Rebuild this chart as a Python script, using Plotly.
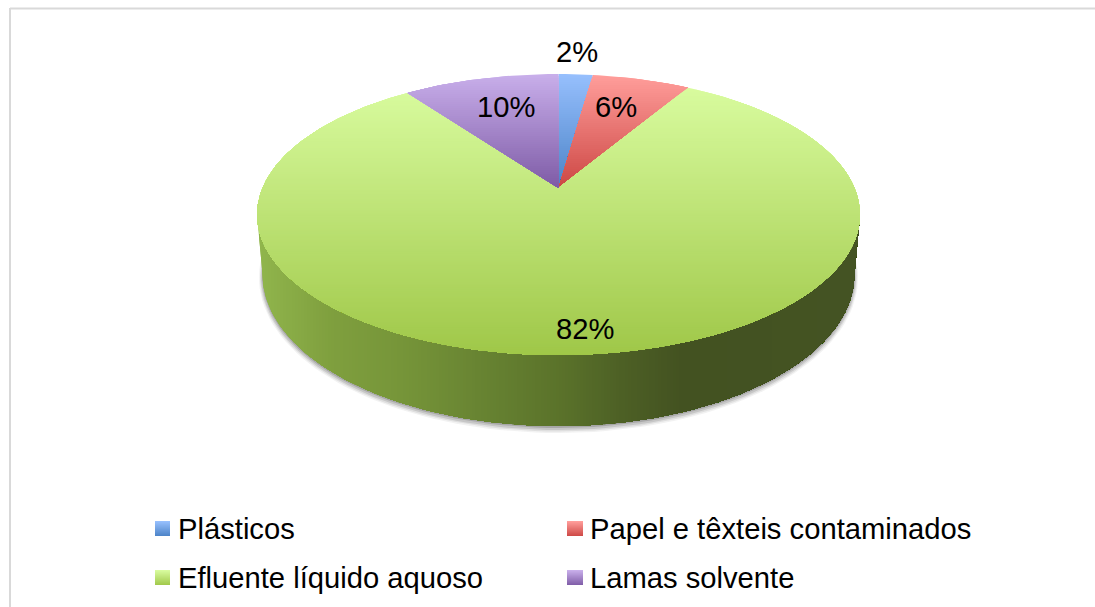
import numpy as np
import plotly.graph_objects as go

# ---- data ----
categories = ["Plásticos", "Papel e têxteis contaminados", "Efluente líquido aquoso", "Lamas solvente"]
values = [2.2, 6.3, 81.5, 10.0]
top_colors = ["#96BFFD", "#FF9D9A", "#D8FB9E", "#C8AEEA"]
bottom_colors = ["#4A82C6", "#CC4643", "#9FC748", "#7D5AA5"]

# ---- drawing geometry (page pixels) ----
W, H = 1095, 607
CX, APEX_Y = 558.5, 188.0
A, C, K = 296.0, 135.5, 0.1886     # perspective of the pie's top face
TOP = dict(cy=214.5, a=301.5, b=140.5)
BASE = dict(cy=274.0, a=296.0, b=152.0)
WALL_STOPS = [(258, "#90B54C"), (330, "#7F9F3E"), (400, "#769539"), (500, "#647F30"),
              (560, "#5A722A"), (620, "#4D6025"), (680, "#435221"), (860, "#445323")]
LABEL_POS = [(577, 52), (615.5, 107), (585, 329), (506, 107)]
LABEL_SIZE = 29.2
LEGEND_X = [(155, 170, 175.5), (567, 583, 588)]
LEGEND_Y = [(521, 536, 529), (570, 585, 578)]


def hex_rgb(h):
    return np.array([int(h[i:i + 2], 16) for i in (1, 3, 5)], float)


def mix(c0, c1, t):
    r = hex_rgb(c0) * (1 - t) + hex_rgb(c1) * t
    return "rgb(%d,%d,%d)" % tuple(np.round(r))


def project(theta):
    """Pie angle (clockwise from the back) -> page position on the top face."""
    u, v = np.sin(theta), np.cos(theta)
    w = 1 + K * v
    return CX + A * u / w, APEX_Y - C * v / w


def clip(poly, axis, limit):
    """Keep the part of a polygon with coordinate >= limit."""
    out = []
    n = len(poly)
    for i in range(n):
        p, q = poly[i], poly[(i + 1) % n]
        pin, qin = p[axis] >= limit, q[axis] >= limit
        if pin:
            out.append(p)
        if pin != qin:
            t = (limit - p[axis]) / (q[axis] - p[axis])
            out.append((p[0] + t * (q[0] - p[0]), p[1] + t * (q[1] - p[1])))
    return out


def add_poly(fig, poly, color):
    xs = [p[0] for p in poly] + [poly[0][0]]
    ys = [p[1] for p in poly] + [poly[0][1]]
    fig.add_trace(go.Scatter(x=xs, y=ys, mode="lines", fill="toself", fillcolor=color,
                             line=dict(width=0, color=color), hoverinfo="skip", showlegend=False))


def gradient_y(fig, poly, c0, c1, step=2.0):
    ys = [p[1] for p in poly]
    y0, y1 = min(ys), max(ys)
    for y in np.arange(y0, y1, step):
        part = clip(poly, 1, y)
        if len(part) >= 3:
            add_poly(fig, part, mix(c0, c1, (y - y0) / (y1 - y0)))


fig = go.Figure()

# soft shadow below the wall
for grow, dy, alpha in [(3.5, 3.5, 0.07), (2.5, 3.0, 0.11), (1.5, 2.5, 0.16), (0.5, 1.5, 0.24)]:
    phi = np.linspace(0, 2 * np.pi, 160)
    add_poly(fig, list(zip(CX + (BASE["a"] + grow) * np.sin(phi),
                           BASE["cy"] + dy + (BASE["b"] + grow) * np.cos(phi))),
             "rgba(70,70,70,%.2f)" % alpha)

# side wall, shaded from left to right
phi = np.linspace(-np.pi / 2, np.pi / 2, 140)
wall = list(zip(CX + TOP["a"] * np.sin(phi), TOP["cy"] + TOP["b"] * np.cos(phi)))
wall += list(zip(CX + BASE["a"] * np.sin(phi[::-1]), BASE["cy"] + BASE["b"] * np.cos(phi[::-1])))
stop_x = [s[0] for s in WALL_STOPS]
for x in np.arange(CX - TOP["a"] - 1, CX + TOP["a"] + 1, 3.0):
    j = min(np.searchsorted(stop_x, x, side="right"), len(stop_x) - 1)
    j = max(j, 1)
    t = np.clip((x - stop_x[j - 1]) / (stop_x[j] - stop_x[j - 1]), 0, 1)
    part = clip(wall, 0, x)
    if len(part) >= 3:
        add_poly(fig, part, mix(WALL_STOPS[j - 1][1], WALL_STOPS[j][1], t))

# top face: one shaded slice per value
ends = np.cumsum(values) / np.sum(values) * 2 * np.pi
starts = np.concatenate([[0], ends[:-1]])
for s, e, c0, c1 in zip(starts, ends, top_colors, bottom_colors):
    th = np.linspace(s, e, max(int((e - s) / 0.02), 6))
    px, py = project(th)
    poly = [(CX, APEX_Y)] + list(zip(px, py))
    gradient_y(fig, poly, c0, c1)

# legend
k = 0
for (y0, y1, yt) in LEGEND_Y:
    for (x0, x1, xt) in LEGEND_X:
        gradient_y(fig, [(x0, y0), (x1, y0), (x1, y1), (x0, y1)], top_colors[k], bottom_colors[k], step=1.0)
        fig.add_annotation(x=xt, y=yt, text=categories[k], xanchor="left", yanchor="middle", showarrow=False,
                           font=dict(family="Liberation Sans", size=LABEL_SIZE, color="#000000"))
        k += 1

# value labels
for v, (x, y) in zip(values, LABEL_POS):
    fig.add_annotation(x=x, y=y, text="%d%%" % round(v), xanchor="center", yanchor="middle", showarrow=False,
                       font=dict(family="Liberation Sans", size=LABEL_SIZE, color="#000000"))

# frame of the chart area (open towards the right and bottom of the crop)
fig.add_shape(type="line", x0=10, x1=W, y0=8.5, y1=8.5, line=dict(color="#D9D9D9", width=2))
fig.add_shape(type="line", x0=10, x1=10, y0=8, y1=H, line=dict(color="#D9D9D9", width=2))

fig.update_layout(width=W, height=H, margin=dict(l=0, r=0, t=0, b=0), showlegend=False,
                  paper_bgcolor="#FFFFFF", plot_bgcolor="#FFFFFF",
                  xaxis=dict(range=[0, W], visible=False, fixedrange=True),
                  yaxis=dict(range=[H, 0], visible=False, fixedrange=True))
fig.write_html("out.html", config={"displayModeBar": False},
               default_width="%dpx" % W, default_height="%dpx" % H,
               post_script="document.body.style.margin='0';document.documentElement.style.overflow='hidden';")
